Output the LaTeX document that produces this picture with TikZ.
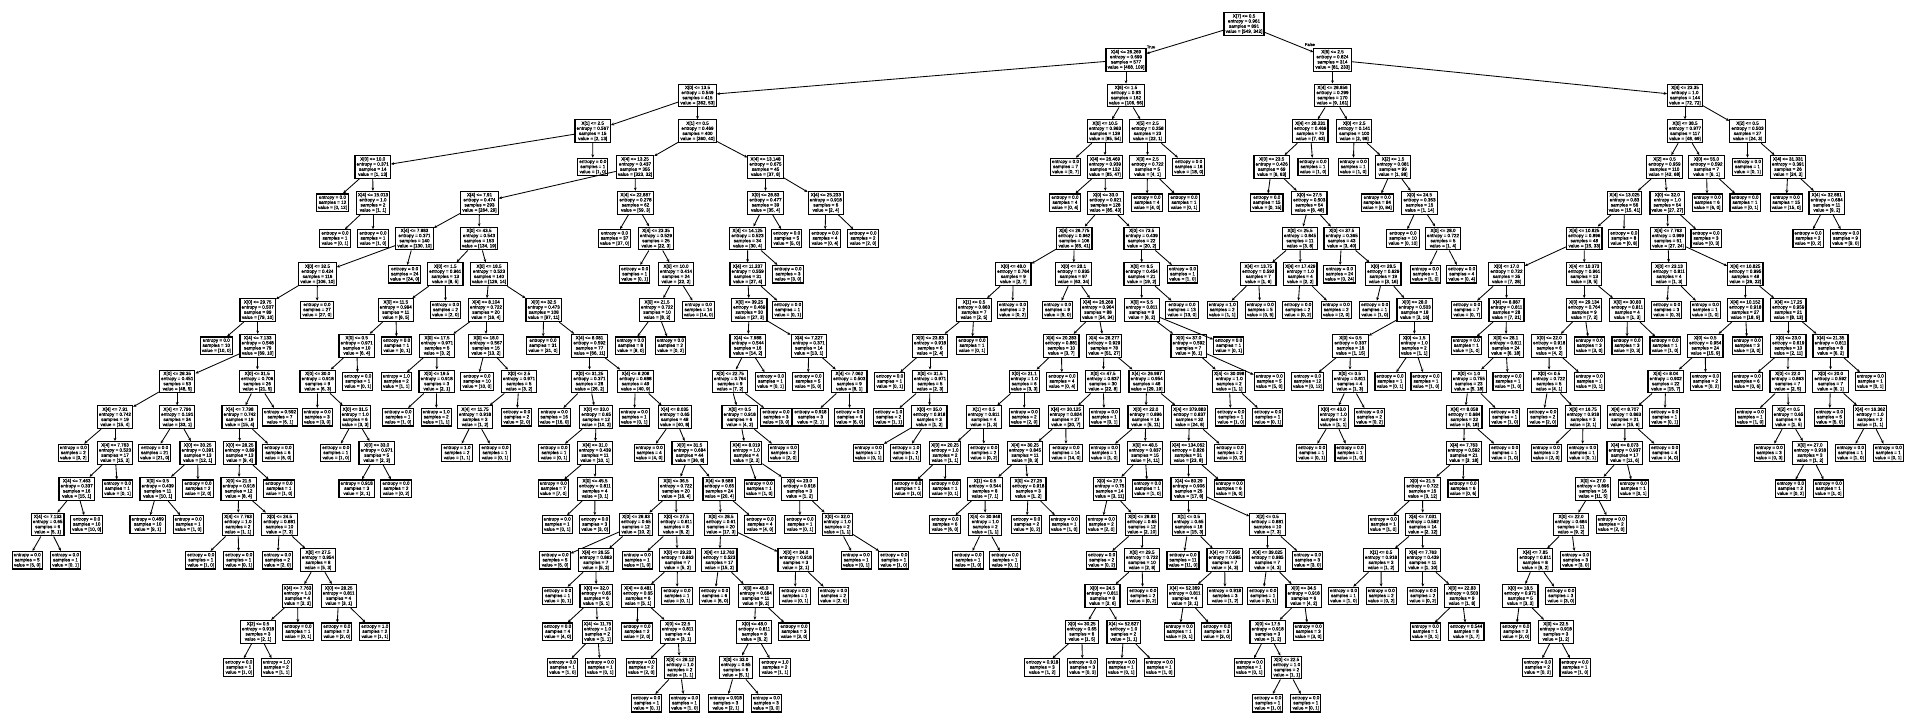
\documentclass[tikz,border=0pt]{standalone}
\usepackage{fontspec}
\setmainfont{Liberation Sans}
\newfontfamily\nodefont{Liberation Sans}[FakeBold=0.5]
\usetikzlibrary{arrows.meta}
\tikzset{
 inn/.style={draw, line width=1.15bp, fill=white, align=center, inner xsep=1.6bp, inner ysep=1.6bp, font=\nodefont\fontsize{4.6bp}{5.1bp}\selectfont},
 lfs/.style={inn},
 edg/.style={line width=0.85bp, black, -{Stealth[length=3.2bp,width=2.8bp]}},
 elab/.style={font=\nodefont\fontsize{4.2bp}{5bp}\selectfont, inner sep=0pt}
}
\newcommand\mkin[9]{\node[inn] (#1) at (#3,{24+35.75*#4}) {X[#5] <= #6\\entropy = #7\\samples = #8\\value = [#9]};\draw[edg] (#2) -- (#1);}
\newcommand\mklf[7]{\node[lfs] (#1) at (#3,{24+35.75*#4}) {entropy = #5\\samples = #6\\value = [#7]};\draw[edg] (#2) -- (#1);}
\begin{document}
\begin{tikzpicture}[x=1bp,y=-1bp]
\useasboundingbox (0,0) rectangle (1918,726);
\node[inn] (n1) at (1244,24) {X[7] <= 0.5\\entropy = 0.961\\samples = 891\\value = [549, 342]};
\mkin{n2}{n1}{1126}{1}{4}{26.269}{0.699}{577}{468, 109}
\mkin{n3}{n1}{1332.5}{1}{6}{2.5}{0.824}{314}{81, 233}
\node[elab] (tl) at (1151,47) {True};
\node[elab] (fl) at (1310,44.5) {False};
\mkin{n4}{n2}{697.5}{2}{0}{13.5}{0.549}{415}{362, 53}
\mkin{n5}{n2}{1126}{2}{6}{1.5}{0.93}{162}{106, 56}
\mkin{n6}{n3}{1332.5}{2}{4}{28.856}{0.299}{170}{9, 161}
\mkin{n7}{n3}{1685}{2}{4}{23.35}{1.0}{144}{72, 72}
\mkin{n8}{n4}{592.7}{3}{1}{2.5}{0.567}{15}{2, 13}
\mkin{n9}{n4}{697.5}{3}{1}{0.5}{0.469}{400}{360, 40}
\mkin{n10}{n5}{1105}{3}{0}{10.5}{0.963}{139}{85, 54}
\mkin{n11}{n5}{1147.5}{3}{5}{2.5}{0.258}{23}{22, 1}
\mkin{n12}{n6}{1310.3}{3}{4}{28.231}{0.469}{70}{7, 63}
\mkin{n13}{n6}{1354.2}{3}{0}{2.5}{0.141}{100}{2, 98}
\mkin{n14}{n7}{1685}{3}{0}{38.5}{0.977}{117}{48, 69}
\mkin{n15}{n7}{1747.5}{3}{2}{0.5}{0.503}{27}{24, 3}
\mkin{n16}{n8}{372.7}{4}{0}{10.0}{0.371}{14}{1, 13}
\mklf{n17}{n8}{592.8}{4}{0.0}{1}{1, 0}
\mkin{n18}{n9}{635}{4}{4}{13.25}{0.437}{355}{323, 32}
\mkin{n19}{n9}{765.5}{4}{4}{13.148}{0.675}{45}{37, 8}
\mklf{n20}{n10}{1065.5}{4}{0.0}{7}{0, 7}
\mkin{n21}{n10}{1105}{4}{4}{26.469}{0.939}{132}{85, 47}
\mkin{n22}{n11}{1147.5}{4}{3}{2.5}{0.722}{5}{4, 1}
\mklf{n23}{n11}{1188.7}{4}{0.0}{18}{18, 0}
\mkin{n24}{n12}{1271.7}{4}{0}{23.5}{0.426}{69}{6, 63}
\mklf{n25}{n12}{1313}{4}{0.0}{1}{1, 0}
\mklf{n26}{n13}{1353.2}{4}{0.0}{1}{1, 0}
\mkin{n27}{n13}{1393}{4}{2}{1.5}{0.081}{99}{1, 98}
\mkin{n28}{n14}{1664.5}{4}{2}{0.5}{0.959}{110}{42, 68}
\mkin{n29}{n14}{1706.5}{4}{0}{55.0}{0.592}{7}{6, 1}
\mklf{n30}{n15}{1747.5}{4}{0.0}{1}{0, 1}
\mkin{n31}{n15}{1788}{4}{4}{31.331}{0.391}{26}{24, 2}
\mklf{n32}{n16}{332.5}{5}{0.0}{12}{0, 12}
\mkin{n33}{n16}{373}{5}{4}{15.013}{1.0}{2}{1, 1}
\mkin{n34}{n18}{479.5}{5}{4}{7.91}{0.474}{293}{264, 29}
\mkin{n35}{n18}{635.5}{5}{4}{22.887}{0.278}{62}{59, 3}
\mkin{n36}{n19}{765.5}{5}{0}{28.83}{0.477}{39}{35, 4}
\mkin{n37}{n19}{825.8}{5}{4}{25.233}{0.918}{6}{2, 4}
\mklf{n38}{n21}{1065}{5}{0.0}{4}{0, 4}
\mkin{n39}{n21}{1105.5}{5}{0}{33.0}{0.921}{128}{85, 43}
\mklf{n40}{n22}{1147}{5}{0.0}{4}{4, 0}
\mklf{n41}{n22}{1184}{5}{0.0}{1}{0, 1}
\mklf{n42}{n24}{1266.8}{5}{0.0}{15}{0, 15}
\mkin{n43}{n24}{1309.3}{5}{0}{27.5}{0.503}{54}{6, 48}
\mklf{n44}{n27}{1377.2}{5}{0.0}{84}{0, 84}
\mkin{n45}{n27}{1419.5}{5}{0}{24.5}{0.353}{15}{1, 14}
\mkin{n46}{n28}{1624.5}{5}{4}{13.025}{0.83}{56}{15, 41}
\mkin{n47}{n28}{1667.3}{5}{0}{32.0}{1.0}{54}{27, 27}
\mklf{n48}{n29}{1707.2}{5}{0.0}{6}{6, 0}
\mklf{n49}{n29}{1745}{5}{0.0}{1}{0, 1}
\mklf{n50}{n31}{1786.2}{5}{0.0}{15}{15, 0}
\mkin{n51}{n31}{1826.7}{5}{4}{32.881}{0.684}{11}{9, 2}
\mklf{n52}{n33}{335}{6}{0.0}{1}{0, 1}
\mklf{n53}{n33}{373}{6}{0.0}{1}{1, 0}
\mkin{n54}{n34}{414.5}{6}{4}{7.883}{0.371}{140}{130, 10}
\mkin{n55}{n34}{479}{6}{0}{43.5}{0.543}{153}{134, 19}
\mklf{n56}{n35}{614.5}{6}{0.0}{37}{37, 0}
\mkin{n57}{n35}{656}{6}{4}{23.35}{0.529}{25}{22, 3}
\mkin{n58}{n36}{747.5}{6}{4}{14.125}{0.523}{34}{30, 4}
\mklf{n59}{n36}{786.7}{6}{0.0}{5}{5, 0}
\mklf{n60}{n37}{825}{6}{0.0}{4}{0, 4}
\mklf{n61}{n37}{863}{6}{0.0}{2}{2, 0}
\mkin{n62}{n39}{1074.3}{6}{4}{26.775}{0.962}{106}{65, 41}
\mkin{n63}{n39}{1141.7}{6}{0}{73.5}{0.439}{22}{20, 2}
\mkin{n64}{n43}{1300}{6}{0}{25.5}{0.845}{11}{3, 8}
\mkin{n65}{n43}{1341.7}{6}{0}{37.5}{0.365}{43}{3, 40}
\mklf{n66}{n45}{1403}{6}{0.0}{10}{0, 10}
\mkin{n67}{n45}{1443}{6}{0}{28.0}{0.722}{5}{1, 4}
\mkin{n68}{n46}{1584.3}{6}{4}{10.825}{0.896}{48}{15, 33}
\mklf{n69}{n46}{1623.8}{6}{0.0}{8}{0, 8}
\mkin{n70}{n47}{1668}{6}{4}{7.763}{0.999}{51}{27, 24}
\mklf{n71}{n47}{1706}{6}{0.0}{3}{0, 3}
\mklf{n72}{n51}{1808}{6}{0.0}{2}{0, 2}
\mklf{n73}{n51}{1845.5}{6}{0.0}{9}{9, 0}
\mkin{n74}{n54}{317.5}{7}{0}{32.5}{0.424}{116}{106, 10}
\mklf{n75}{n54}{404.7}{7}{0.0}{24}{24, 0}
\mkin{n76}{n55}{445.3}{7}{0}{1.5}{0.961}{13}{8, 5}
\mkin{n77}{n55}{489}{7}{0}{18.5}{0.523}{140}{126, 14}
\mklf{n78}{n57}{634.7}{7}{0.0}{1}{0, 1}
\mkin{n79}{n57}{676}{7}{0}{10.0}{0.414}{24}{22, 2}
\mkin{n80}{n58}{747.7}{7}{4}{11.237}{0.559}{31}{27, 4}
\mklf{n81}{n58}{788}{7}{0.0}{3}{3, 0}
\mkin{n82}{n62}{1013.3}{7}{0}{48.0}{0.764}{9}{2, 7}
\mkin{n83}{n62}{1073.5}{7}{0}{28.1}{0.935}{97}{63, 34}
\mkin{n84}{n63}{1141.7}{7}{0}{6.5}{0.454}{21}{19, 2}
\mklf{n85}{n63}{1182.5}{7}{0.0}{1}{1, 0}
\mkin{n86}{n64}{1258.3}{7}{4}{13.75}{0.592}{7}{1, 6}
\mkin{n87}{n64}{1300.3}{7}{4}{17.429}{1.0}{4}{2, 2}
\mklf{n88}{n65}{1339.5}{7}{0.0}{24}{0, 24}
\mkin{n89}{n65}{1383.3}{7}{0}{28.5}{0.629}{19}{3, 16}
\mklf{n90}{n67}{1425.3}{7}{0.0}{1}{1, 0}
\mklf{n91}{n67}{1461.7}{7}{0.0}{4}{0, 4}
\mkin{n92}{n68}{1506.5}{7}{0}{17.0}{0.722}{35}{7, 28}
\mkin{n93}{n68}{1584.2}{7}{4}{10.373}{0.961}{13}{8, 5}
\mkin{n94}{n70}{1669}{7}{0}{23.13}{0.811}{4}{1, 3}
\mkin{n95}{n70}{1745.3}{7}{4}{10.825}{0.995}{48}{26, 22}
\mkin{n96}{n74}{257.7}{8}{0}{29.75}{0.507}{89}{79, 10}
\mklf{n97}{n74}{317}{8}{0.0}{27}{27, 0}
\mkin{n98}{n76}{395.8}{8}{0}{11.5}{0.994}{11}{6, 5}
\mklf{n99}{n76}{445.5}{8}{0.0}{2}{2, 0}
\mkin{n100}{n77}{486}{8}{4}{8.104}{0.722}{20}{16, 4}
\mkin{n101}{n77}{543.7}{8}{0}{32.5}{0.473}{108}{97, 11}
\mkin{n102}{n79}{657}{8}{0}{21.5}{0.722}{10}{8, 2}
\mklf{n103}{n79}{698.3}{8}{0.0}{14}{14, 0}
\mkin{n104}{n80}{749.3}{8}{0}{39.25}{0.469}{30}{27, 3}
\mklf{n105}{n80}{787.7}{8}{0.0}{1}{0, 1}
\mkin{n106}{n82}{974}{8}{1}{0.5}{0.863}{7}{2, 5}
\mklf{n107}{n82}{1012.5}{8}{0.0}{2}{0, 2}
\mklf{n108}{n83}{1057.5}{8}{0.0}{9}{9, 0}
\mkin{n109}{n83}{1098}{8}{4}{26.268}{0.964}{88}{54, 34}
\mkin{n110}{n84}{1141.7}{8}{0}{5.5}{0.811}{8}{6, 2}
\mklf{n111}{n84}{1182}{8}{0.0}{13}{13, 0}
\mklf{n112}{n86}{1222.2}{8}{1.0}{2}{1, 1}
\mklf{n113}{n86}{1260.2}{8}{0.0}{5}{0, 5}
\mklf{n114}{n87}{1297.8}{8}{0.0}{2}{0, 2}
\mklf{n115}{n87}{1336.2}{8}{0.0}{2}{2, 0}
\mklf{n116}{n89}{1374.7}{8}{0.0}{1}{1, 0}
\mkin{n117}{n89}{1414.7}{8}{0}{28.0}{0.503}{18}{2, 16}
\mklf{n118}{n92}{1466.7}{8}{0.0}{7}{0, 7}
\mkin{n119}{n92}{1506.5}{8}{4}{8.887}{0.811}{28}{7, 21}
\mkin{n120}{n93}{1584.2}{8}{0}{29.134}{0.764}{9}{7, 2}
\mkin{n121}{n93}{1627.3}{8}{0}{30.83}{0.811}{4}{1, 3}
\mklf{n122}{n94}{1666.7}{8}{0.0}{3}{0, 3}
\mklf{n123}{n94}{1705.3}{8}{0.0}{1}{1, 0}
\mkin{n124}{n95}{1745.3}{8}{4}{10.152}{0.918}{27}{18, 9}
\mkin{n125}{n95}{1788.3}{8}{4}{17.25}{0.959}{21}{8, 13}
\mklf{n126}{n96}{216.3}{9}{0.0}{10}{10, 0}
\mkin{n127}{n96}{257.7}{9}{4}{7.133}{0.548}{79}{69, 10}
\mkin{n128}{n98}{356.7}{9}{0}{0.5}{0.971}{10}{6, 4}
\mklf{n129}{n98}{396.7}{9}{0.0}{1}{0, 1}
\mkin{n130}{n100}{437}{9}{0}{17.5}{0.971}{5}{3, 2}
\mkin{n131}{n100}{486}{9}{0}{18.0}{0.567}{15}{13, 2}
\mklf{n132}{n101}{543}{9}{0.0}{31}{31, 0}
\mkin{n133}{n101}{589.5}{9}{4}{8.081}{0.592}{77}{66, 11}
\mklf{n134}{n102}{630.5}{9}{0.0}{8}{8, 0}
\mklf{n135}{n102}{670.5}{9}{0.0}{2}{0, 2}
\mkin{n136}{n104}{747.7}{9}{4}{7.988}{0.544}{16}{14, 2}
\mkin{n137}{n104}{808.8}{9}{4}{7.227}{0.371}{14}{13, 1}
\mkin{n138}{n106}{930}{9}{0}{23.83}{0.918}{6}{2, 4}
\mklf{n139}{n106}{972}{9}{0.0}{1}{0, 1}
\mkin{n140}{n109}{1061.3}{9}{4}{20.283}{0.881}{10}{3, 7}
\mkin{n141}{n109}{1104.2}{9}{4}{26.277}{0.929}{78}{51, 27}
\mkin{n142}{n110}{1188.7}{9}{0}{37.0}{0.592}{7}{6, 1}
\mklf{n143}{n110}{1228.7}{9}{0.0}{1}{0, 1}
\mkin{n144}{n117}{1350.5}{9}{0}{0.5}{0.337}{16}{1, 15}
\mkin{n145}{n117}{1414.2}{9}{0}{1.5}{1.0}{2}{1, 1}
\mklf{n146}{n119}{1466.3}{9}{0.0}{1}{1, 0}
\mkin{n147}{n119}{1505.8}{9}{0}{28.1}{0.811}{24}{6, 18}
\mkin{n148}{n120}{1549.2}{9}{0}{22.0}{0.918}{6}{4, 2}
\mklf{n149}{n120}{1589.2}{9}{0.0}{3}{3, 0}
\mklf{n150}{n121}{1627}{9}{0.0}{3}{0, 3}
\mklf{n151}{n121}{1665}{9}{0.0}{1}{1, 0}
\mkin{n152}{n124}{1705.3}{9}{0}{0.5}{0.954}{24}{15, 9}
\mklf{n153}{n124}{1747.2}{9}{0.0}{3}{3, 0}
\mkin{n154}{n125}{1788.3}{9}{0}{23.0}{0.619}{13}{2, 11}
\mkin{n155}{n125}{1830.5}{9}{4}{21.35}{0.811}{8}{6, 2}
\mkin{n156}{n127}{177.2}{10}{0}{28.35}{0.451}{53}{48, 5}
\mkin{n157}{n127}{257.2}{10}{0}{31.5}{0.706}{26}{21, 5}
\mkin{n158}{n128}{317.7}{10}{0}{30.0}{0.918}{9}{6, 3}
\mklf{n159}{n128}{357.8}{10}{0.0}{1}{0, 1}
\mklf{n160}{n130}{396.3}{10}{1.0}{2}{1, 1}
\mkin{n161}{n130}{436.7}{10}{0}{19.5}{0.918}{3}{2, 1}
\mklf{n162}{n131}{477}{10}{0.0}{10}{10, 0}
\mkin{n163}{n131}{519}{10}{0}{2.5}{0.971}{5}{3, 2}
\mkin{n164}{n133}{589.5}{10}{0}{31.25}{0.371}{28}{26, 2}
\mkin{n165}{n133}{635.5}{10}{4}{8.208}{0.688}{49}{40, 9}
\mkin{n166}{n136}{730}{10}{0}{22.75}{0.764}{9}{7, 2}
\mklf{n167}{n136}{770.5}{10}{0.0}{1}{0, 1}
\mklf{n168}{n137}{808}{10}{0.0}{5}{5, 0}
\mkin{n169}{n137}{849.3}{10}{4}{7.062}{0.503}{9}{8, 1}
\mklf{n170}{n138}{889.7}{10}{0.0}{1}{0, 1}
\mkin{n171}{n138}{930}{10}{0}{31.5}{0.971}{5}{2, 3}
\mkin{n172}{n140}{1024.2}{10}{0}{21.1}{1.0}{6}{3, 3}
\mklf{n173}{n140}{1062}{10}{0.0}{4}{0, 4}
\mkin{n174}{n141}{1103}{10}{0}{47.5}{0.837}{30}{22, 8}
\mkin{n175}{n141}{1146.7}{10}{4}{26.987}{0.954}{48}{29, 19}
\mkin{n176}{n142}{1229.2}{10}{4}{30.098}{1.0}{2}{1, 1}
\mklf{n177}{n142}{1269.2}{10}{0.0}{5}{5, 0}
\mklf{n178}{n144}{1307.5}{10}{0.0}{12}{0, 12}
\mkin{n179}{n144}{1349.7}{10}{0}{0.5}{0.811}{4}{1, 3}
\mklf{n180}{n145}{1390}{10}{0.0}{1}{0, 1}
\mklf{n181}{n145}{1426}{10}{0.0}{1}{1, 0}
\mkin{n182}{n147}{1468.8}{10}{0}{1.0}{0.755}{23}{5, 18}
\mklf{n183}{n147}{1508}{10}{0.0}{1}{1, 0}
\mkin{n184}{n148}{1549}{10}{0}{0.5}{0.722}{5}{4, 1}
\mklf{n185}{n148}{1589.2}{10}{0.0}{1}{0, 1}
\mkin{n186}{n152}{1665.7}{10}{4}{8.04}{0.902}{22}{15, 7}
\mklf{n187}{n152}{1705.5}{10}{0.0}{2}{0, 2}
\mklf{n188}{n154}{1747.2}{10}{0.0}{6}{0, 6}
\mkin{n189}{n154}{1787.7}{10}{0}{22.0}{0.863}{7}{2, 5}
\mkin{n190}{n155}{1830.5}{10}{0}{20.0}{0.592}{7}{6, 1}
\mklf{n191}{n155}{1870.3}{10}{0.0}{1}{0, 1}
\mkin{n192}{n156}{115}{11}{4}{7.91}{0.742}{19}{15, 4}
\mkin{n193}{n156}{177.2}{11}{4}{7.796}{0.191}{34}{33, 1}
\mkin{n194}{n157}{239.7}{11}{4}{7.798}{0.742}{19}{15, 4}
\mklf{n195}{n157}{280}{11}{0.592}{7}{6, 1}
\mklf{n196}{n158}{317.2}{11}{0.0}{3}{3, 0}
\mkin{n197}{n158}{355.2}{11}{0}{31.5}{1.0}{6}{3, 3}
\mklf{n198}{n161}{398}{11}{0.0}{1}{1, 0}
\mklf{n199}{n161}{436.2}{11}{1.0}{2}{1, 1}
\mkin{n200}{n163}{475}{11}{4}{11.75}{0.918}{3}{1, 2}
\mklf{n201}{n163}{516.7}{11}{0.0}{2}{2, 0}
\mklf{n202}{n164}{554.2}{11}{0.0}{16}{16, 0}
\mkin{n203}{n164}{596.2}{11}{0}{33.0}{0.65}{12}{10, 2}
\mklf{n204}{n165}{634.2}{11}{0.0}{1}{0, 1}
\mkin{n205}{n165}{674.7}{11}{4}{8.035}{0.65}{48}{40, 8}
\mkin{n206}{n166}{739.7}{11}{0}{0.5}{0.918}{6}{4, 2}
\mklf{n207}{n166}{776}{11}{0.0}{3}{3, 0}
\mklf{n208}{n169}{810.5}{11}{0.918}{3}{2, 1}
\mklf{n209}{n169}{849.7}{11}{0.0}{6}{6, 0}
\mklf{n210}{n171}{888.7}{11}{1.0}{2}{1, 1}
\mkin{n211}{n171}{929.3}{11}{0}{35.0}{0.918}{3}{1, 2}
\mkin{n212}{n172}{983.8}{11}{1}{0.5}{0.811}{4}{1, 3}
\mklf{n213}{n172}{1024.2}{11}{0.0}{2}{2, 0}
\mkin{n214}{n174}{1065.8}{11}{4}{30.125}{0.824}{27}{20, 7}
\mklf{n215}{n174}{1104.3}{11}{0.0}{1}{0, 1}
\mkin{n216}{n175}{1145.7}{11}{0}{22.0}{0.896}{16}{5, 11}
\mkin{n217}{n175}{1189.5}{11}{4}{379.883}{0.837}{32}{24, 8}
\mklf{n218}{n176}{1230.8}{11}{0.0}{1}{1, 0}
\mklf{n219}{n176}{1267.8}{11}{0.0}{1}{0, 1}
\mkin{n220}{n179}{1333.3}{11}{0}{43.0}{1.0}{2}{1, 1}
\mklf{n221}{n179}{1369.5}{11}{0.0}{2}{0, 2}
\mkin{n222}{n182}{1464.3}{11}{4}{8.058}{0.684}{22}{4, 18}
\mklf{n223}{n182}{1504.7}{11}{0.0}{1}{1, 0}
\mklf{n224}{n184}{1542.8}{11}{0.0}{2}{2, 0}
\mkin{n225}{n184}{1583}{11}{0}{16.75}{0.918}{3}{2, 1}
\mkin{n226}{n186}{1625}{11}{4}{8.707}{0.863}{21}{15, 6}
\mklf{n227}{n186}{1664.7}{11}{0.0}{1}{0, 1}
\mklf{n228}{n189}{1750.2}{11}{0.0}{1}{1, 0}
\mkin{n229}{n189}{1788.5}{11}{2}{0.5}{0.65}{6}{1, 5}
\mklf{n230}{n190}{1829.5}{11}{0.0}{5}{5, 0}
\mkin{n231}{n190}{1870}{11}{4}{16.362}{1.0}{2}{1, 1}
\mklf{n232}{n192}{73.3}{12}{0.0}{2}{0, 2}
\mkin{n233}{n192}{115}{12}{4}{7.763}{0.523}{17}{15, 2}
\mklf{n234}{n193}{154.7}{12}{0.0}{21}{21, 0}
\mkin{n235}{n193}{197.7}{12}{0}{30.25}{0.391}{13}{12, 1}
\mkin{n236}{n194}{239.7}{12}{0}{28.25}{0.89}{13}{9, 4}
\mklf{n237}{n194}{278}{12}{0.0}{6}{6, 0}
\mklf{n238}{n197}{335.8}{12}{0.0}{1}{1, 0}
\mkin{n239}{n197}{376.7}{12}{0}{33.0}{0.971}{5}{2, 3}
\mklf{n240}{n200}{457}{12}{1.0}{2}{1, 1}
\mklf{n241}{n200}{495}{12}{0.0}{1}{0, 1}
\mklf{n242}{n203}{554}{12}{0.0}{1}{0, 1}
\mkin{n243}{n203}{595}{12}{4}{31.0}{0.439}{11}{10, 1}
\mklf{n244}{n205}{649.2}{12}{0.0}{4}{4, 0}
\mkin{n245}{n205}{689.7}{12}{0}{31.5}{0.684}{44}{36, 8}
\mkin{n246}{n206}{746.3}{12}{4}{8.019}{1.0}{4}{2, 2}
\mklf{n247}{n206}{783.3}{12}{0.0}{2}{2, 0}
\mklf{n248}{n211}{868.2}{12}{0.0}{1}{0, 1}
\mklf{n249}{n211}{905.8}{12}{1.0}{2}{1, 1}
\mkin{n250}{n212}{945}{12}{0}{20.25}{1.0}{2}{1, 1}
\mklf{n251}{n212}{983.8}{12}{0.0}{2}{0, 2}
\mkin{n252}{n214}{1025}{12}{4}{30.25}{0.845}{11}{8, 3}
\mklf{n253}{n214}{1066}{12}{0.0}{14}{14, 0}
\mklf{n254}{n216}{1104.3}{12}{0.0}{1}{1, 0}
\mkin{n255}{n216}{1145}{12}{0}{48.5}{0.837}{15}{4, 11}
\mkin{n256}{n217}{1188.3}{12}{4}{134.062}{0.826}{31}{23, 8}
\mklf{n257}{n217}{1230}{12}{0.0}{2}{0, 2}
\mklf{n258}{n220}{1311.7}{12}{0.0}{1}{0, 1}
\mklf{n259}{n220}{1350}{12}{0.0}{1}{1, 0}
\mkin{n260}{n222}{1463.8}{12}{4}{7.763}{0.592}{21}{3, 18}
\mklf{n261}{n222}{1504.7}{12}{0.0}{1}{1, 0}
\mklf{n262}{n225}{1546.2}{12}{0.0}{2}{2, 0}
\mklf{n263}{n225}{1582.5}{12}{0.0}{1}{0, 1}
\mkin{n264}{n226}{1624.7}{12}{4}{8.073}{0.937}{17}{11, 6}
\mklf{n265}{n226}{1664.7}{12}{0.0}{4}{4, 0}
\mklf{n266}{n229}{1769.2}{12}{0.0}{3}{0, 3}
\mkin{n267}{n229}{1810}{12}{0}{27.0}{0.918}{3}{1, 2}
\mklf{n268}{n231}{1850.5}{12}{0.0}{1}{1, 0}
\mklf{n269}{n231}{1888.3}{12}{0.0}{1}{0, 1}
\mkin{n270}{n233}{76.7}{13}{4}{7.463}{0.337}{16}{15, 1}
\mklf{n271}{n233}{117.5}{13}{0.0}{1}{0, 1}
\mkin{n272}{n235}{157.7}{13}{0}{0.5}{0.439}{11}{10, 1}
\mklf{n273}{n235}{198}{13}{0.0}{2}{2, 0}
\mkin{n274}{n236}{238.7}{13}{0}{21.5}{0.918}{12}{8, 4}
\mklf{n275}{n236}{279}{13}{0.0}{1}{1, 0}
\mklf{n276}{n239}{356.7}{13}{0.918}{3}{2, 1}
\mklf{n277}{n239}{396}{13}{0.0}{2}{0, 2}
\mklf{n278}{n243}{553.3}{13}{0.0}{7}{7, 0}
\mkin{n279}{n243}{595}{13}{0}{45.5}{0.811}{4}{3, 1}
\mkin{n280}{n245}{676}{13}{0}{36.5}{0.722}{20}{16, 4}
\mkin{n281}{n245}{719.3}{13}{4}{9.588}{0.65}{24}{20, 4}
\mklf{n282}{n246}{759.2}{13}{0.0}{1}{1, 0}
\mkin{n283}{n246}{799.5}{13}{0}{23.0}{0.918}{3}{1, 2}
\mklf{n284}{n250}{907.8}{13}{0.0}{1}{1, 0}
\mklf{n285}{n250}{945}{13}{0.0}{1}{0, 1}
\mkin{n286}{n252}{985}{13}{1}{0.5}{0.544}{8}{7, 1}
\mkin{n287}{n252}{1028.3}{13}{0}{27.25}{0.918}{3}{1, 2}
\mkin{n288}{n255}{1109.5}{13}{0}{27.5}{0.75}{14}{3, 11}
\mklf{n289}{n255}{1147.5}{13}{0.0}{1}{1, 0}
\mkin{n290}{n256}{1188.7}{13}{4}{80.29}{0.906}{25}{17, 8}
\mklf{n291}{n256}{1229.2}{13}{0.0}{6}{6, 0}
\mkin{n292}{n260}{1422.5}{13}{0}{21.5}{0.722}{15}{3, 12}
\mklf{n293}{n260}{1463}{13}{0.0}{6}{0, 6}
\mkin{n294}{n264}{1593}{13}{0}{27.0}{0.896}{16}{11, 5}
\mklf{n295}{n264}{1633.3}{13}{0.0}{1}{0, 1}
\mklf{n296}{n267}{1790.5}{13}{0.0}{2}{0, 2}
\mklf{n297}{n267}{1828.3}{13}{0.0}{1}{1, 0}
\mkin{n298}{n270}{47.7}{14}{4}{7.133}{0.65}{6}{5, 1}
\mklf{n299}{n270}{86.7}{14}{0.0}{10}{10, 0}
\mklf{n300}{n272}{147.7}{14}{0.469}{10}{9, 1}
\mklf{n301}{n272}{188.2}{14}{0.0}{1}{1, 0}
\mkin{n302}{n274}{238}{14}{4}{7.763}{1.0}{2}{1, 1}
\mkin{n303}{n274}{279.5}{14}{0}{24.5}{0.881}{10}{7, 3}
\mklf{n304}{n279}{557.2}{14}{0.0}{1}{0, 1}
\mklf{n305}{n279}{594.7}{14}{0.0}{3}{3, 0}
\mkin{n306}{n280}{636}{14}{0}{28.83}{0.65}{12}{10, 2}
\mkin{n307}{n280}{676.3}{14}{0}{27.5}{0.811}{8}{6, 2}
\mkin{n308}{n281}{721}{14}{0}{28.5}{0.61}{20}{17, 3}
\mklf{n309}{n281}{760}{14}{0.0}{4}{4, 0}
\mklf{n310}{n283}{800}{14}{0.0}{1}{0, 1}
\mkin{n311}{n283}{837.2}{14}{0}{32.0}{1.0}{2}{1, 1}
\mklf{n312}{n286}{945}{14}{0.0}{6}{6, 0}
\mkin{n313}{n286}{985.2}{14}{4}{30.848}{1.0}{2}{1, 1}
\mklf{n314}{n287}{1026.7}{14}{0.0}{2}{0, 2}
\mklf{n315}{n287}{1064.2}{14}{0.0}{1}{1, 0}
\mklf{n316}{n288}{1101.3}{14}{0.0}{2}{2, 0}
\mkin{n317}{n288}{1142}{14}{0}{28.83}{0.65}{12}{2, 10}
\mkin{n318}{n290}{1188.7}{14}{1}{0.5}{0.65}{18}{15, 3}
\mkin{n319}{n290}{1267.5}{14}{2}{0.5}{0.881}{10}{7, 3}
\mklf{n320}{n292}{1383.3}{14}{0.0}{1}{1, 0}
\mkin{n321}{n292}{1422.8}{14}{4}{7.031}{0.592}{14}{2, 12}
\mkin{n322}{n294}{1571}{14}{0}{22.0}{0.684}{11}{9, 2}
\mklf{n323}{n294}{1611.2}{14}{0.0}{2}{2, 0}
\mklf{n324}{n298}{27.2}{15}{0.0}{5}{5, 0}
\mklf{n325}{n298}{65.5}{15}{0.0}{1}{0, 1}
\mklf{n326}{n302}{200.8}{15}{0.0}{1}{1, 0}
\mklf{n327}{n302}{238.8}{15}{0.0}{1}{0, 1}
\mklf{n328}{n303}{277.5}{15}{0.0}{2}{2, 0}
\mkin{n329}{n303}{318}{15}{0}{27.5}{0.954}{8}{5, 3}
\mklf{n330}{n306}{555}{15}{0.0}{5}{5, 0}
\mkin{n331}{n306}{595.8}{15}{4}{26.55}{0.863}{7}{5, 2}
\mklf{n332}{n307}{637.2}{15}{0.0}{1}{1, 0}
\mkin{n333}{n307}{677.5}{15}{0}{29.23}{0.863}{7}{5, 2}
\mkin{n334}{n308}{719.3}{15}{4}{12.763}{0.523}{17}{15, 2}
\mkin{n335}{n308}{795.7}{15}{0}{34.0}{0.918}{3}{2, 1}
\mklf{n336}{n311}{856.2}{15}{0.0}{1}{0, 1}
\mklf{n337}{n311}{893.8}{15}{0.0}{1}{1, 0}
\mklf{n338}{n313}{968}{15}{0.0}{1}{1, 0}
\mklf{n339}{n313}{1005}{15}{0.0}{1}{0, 1}
\mklf{n340}{n317}{1101.7}{15}{0.0}{2}{0, 2}
\mkin{n341}{n317}{1142}{15}{0}{29.5}{0.722}{10}{2, 8}
\mklf{n342}{n318}{1183}{15}{0.0}{11}{11, 0}
\mkin{n343}{n318}{1224.7}{15}{4}{77.958}{0.985}{7}{4, 3}
\mkin{n344}{n319}{1267.5}{15}{4}{39.025}{0.985}{7}{4, 3}
\mklf{n345}{n319}{1307.5}{15}{0.0}{3}{3, 0}
\mkin{n346}{n321}{1381}{15}{1}{0.5}{0.918}{3}{1, 2}
\mkin{n347}{n321}{1422.8}{15}{4}{7.763}{0.439}{11}{1, 10}
\mkin{n348}{n322}{1535.3}{15}{4}{7.85}{0.811}{8}{6, 2}
\mklf{n349}{n322}{1575.5}{15}{0.0}{3}{3, 0}
\mkin{n350}{n329}{297.5}{16}{4}{7.763}{1.0}{4}{2, 2}
\mkin{n351}{n329}{338.7}{16}{0}{28.25}{0.811}{4}{3, 1}
\mklf{n352}{n331}{557.7}{16}{0.0}{1}{0, 1}
\mkin{n353}{n331}{596.3}{16}{0}{32.0}{0.65}{6}{5, 1}
\mkin{n354}{n333}{638}{16}{4}{8.481}{0.65}{6}{5, 1}
\mklf{n355}{n333}{677}{16}{0.0}{1}{0, 1}
\mklf{n356}{n334}{714.7}{16}{0.0}{6}{6, 0}
\mkin{n357}{n334}{755.8}{16}{0}{45.0}{0.684}{11}{9, 2}
\mklf{n358}{n335}{795}{16}{0.0}{1}{0, 1}
\mklf{n359}{n335}{833.5}{16}{0.0}{2}{2, 0}
\mkin{n360}{n341}{1102.5}{16}{0}{24.5}{0.811}{8}{2, 6}
\mklf{n361}{n341}{1142.8}{16}{0.0}{2}{0, 2}
\mkin{n362}{n343}{1184.7}{16}{4}{52.369}{0.811}{4}{3, 1}
\mklf{n363}{n343}{1225}{16}{0.918}{3}{1, 2}
\mklf{n364}{n344}{1262.8}{16}{0.0}{1}{0, 1}
\mkin{n365}{n344}{1303.7}{16}{0}{34.5}{0.918}{6}{4, 2}
\mklf{n366}{n346}{1343.5}{16}{0.0}{1}{1, 0}
\mklf{n367}{n346}{1381.2}{16}{0.0}{2}{0, 2}
\mklf{n368}{n347}{1422.8}{16}{0.0}{2}{0, 2}
\mkin{n369}{n347}{1462}{16}{0}{22.83}{0.503}{9}{1, 8}
\mkin{n370}{n348}{1520.3}{16}{0}{18.5}{0.971}{5}{3, 2}
\mklf{n371}{n348}{1560.8}{16}{0.0}{3}{3, 0}
\mkin{n372}{n350}{258}{17}{2}{0.5}{0.918}{3}{2, 1}
\mklf{n373}{n350}{298}{17}{0.0}{1}{0, 1}
\mklf{n374}{n351}{336.8}{17}{0.0}{2}{2, 0}
\mklf{n375}{n351}{374.8}{17}{1.0}{2}{1, 1}
\mklf{n376}{n353}{557.7}{17}{0.0}{4}{4, 0}
\mkin{n377}{n353}{597.5}{17}{4}{11.75}{1.0}{2}{1, 1}
\mklf{n378}{n354}{637}{17}{0.0}{2}{2, 0}
\mkin{n379}{n354}{677.7}{17}{0}{22.5}{0.811}{4}{3, 1}
\mkin{n380}{n357}{754.3}{17}{0}{48.0}{0.811}{8}{6, 2}
\mklf{n381}{n357}{794}{17}{0.0}{3}{3, 0}
\mkin{n382}{n360}{1081.8}{17}{0}{30.25}{0.65}{6}{1, 5}
\mkin{n383}{n360}{1123.7}{17}{4}{52.827}{1.0}{2}{1, 1}
\mklf{n384}{n362}{1179.2}{17}{0.0}{1}{0, 1}
\mklf{n385}{n362}{1216.8}{17}{0.0}{3}{3, 0}
\mkin{n386}{n365}{1267.7}{17}{0}{17.5}{0.918}{3}{1, 2}
\mklf{n387}{n365}{1308.2}{17}{0.0}{3}{3, 0}
\mklf{n388}{n369}{1425.3}{17}{0.0}{1}{0, 1}
\mklf{n389}{n369}{1466.3}{17}{0.544}{8}{1, 7}
\mklf{n390}{n370}{1515.8}{17}{0.0}{2}{2, 0}
\mkin{n391}{n370}{1555.8}{17}{0}{22.5}{0.918}{3}{1, 2}
\mklf{n392}{n372}{238.8}{18}{0.0}{1}{1, 0}
\mklf{n393}{n372}{276.3}{18}{1.0}{2}{1, 1}
\mklf{n394}{n377}{562.5}{18}{0.0}{1}{1, 0}
\mklf{n395}{n377}{600.2}{18}{0.0}{1}{0, 1}
\mklf{n396}{n379}{641.2}{18}{0.0}{2}{2, 0}
\mkin{n397}{n379}{680}{18}{0}{28.12}{1.0}{2}{1, 1}
\mkin{n398}{n380}{735.8}{18}{0}{33.0}{0.65}{6}{5, 1}
\mklf{n399}{n380}{775}{18}{1.0}{2}{1, 1}
\mklf{n400}{n382}{1042.2}{18}{0.918}{3}{1, 2}
\mklf{n401}{n382}{1082.5}{18}{0.0}{3}{0, 3}
\mklf{n402}{n383}{1121.2}{18}{0.0}{1}{0, 1}
\mklf{n403}{n383}{1159.2}{18}{0.0}{1}{1, 0}
\mklf{n404}{n386}{1249.2}{18}{0.0}{1}{0, 1}
\mkin{n405}{n386}{1286.7}{18}{0}{22.5}{1.0}{2}{1, 1}
\mklf{n406}{n391}{1537.5}{18}{0.0}{2}{0, 2}
\mklf{n407}{n391}{1575}{18}{0.0}{1}{1, 0}
\mklf{n408}{n397}{646.7}{19}{0.0}{1}{0, 1}
\mklf{n409}{n397}{684.5}{19}{0.0}{1}{1, 0}
\mklf{n410}{n398}{725.8}{19}{0.918}{3}{2, 1}
\mklf{n411}{n398}{766.3}{19}{0.0}{3}{3, 0}
\mklf{n412}{n405}{1267.8}{19}{0.0}{1}{1, 0}
\mklf{n413}{n405}{1305.8}{19}{0.0}{1}{0, 1}
\end{tikzpicture}
\end{document}
